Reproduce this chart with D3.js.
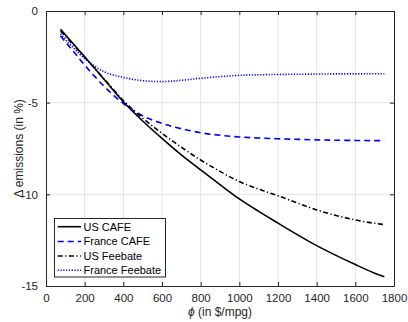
<!DOCTYPE html>
<html>
<head>
<meta charset="utf-8">
<script src="https://cdn.jsdelivr.net/npm/d3@7"></script>
<style>
  html, body { margin: 0; padding: 0; background: #fff; }
  svg { display: block; font-family: "Liberation Sans", Arial, Helvetica, sans-serif; }
</style>
</head>
<body>
<svg id="chart" width="408" height="322"></svg>
<script>
// Fuel-economy price parameter phi (in $/mpg)
const phi = [75, 100, 150, 200, 300, 400, 500, 600, 700, 800, 900, 1000, 1100, 1200, 1300, 1400, 1500, 1600, 1700, 1750];

// Change in emissions (in %) for each policy
const usCafe = [-1.0, -1.3, -1.9, -2.5, -3.72, -4.95, -6.0, -6.95, -7.85, -8.67, -9.47, -10.25, -10.93, -11.57, -12.2, -12.8, -13.33, -13.83, -14.3, -14.5];
const franceCafe = [-1.35, -1.68, -2.31, -2.95, -4.1, -5.05, -5.72, -6.13, -6.42, -6.64, -6.78, -6.87, -6.93, -6.97, -7.0, -7.03, -7.05, -7.06, -7.07, -7.07];
const usFeebate = [-1.1, -1.38, -1.95, -2.52, -3.7, -4.88, -5.85, -6.67, -7.43, -8.13, -8.75, -9.3, -9.72, -10.08, -10.47, -10.85, -11.15, -11.4, -11.58, -11.65];
const franceFeebate = [-1.25, -1.55, -2.1, -2.6, -3.31, -3.62, -3.8, -3.85, -3.78, -3.67, -3.58, -3.51, -3.48, -3.46, -3.45, -3.44, -3.43, -3.43, -3.42, -3.42];

const seriesNames = ["US CAFE", "France CAFE", "US Feebate", "France Feebate"];
const xTicks = [0, 200, 400, 600, 800, 1000, 1200, 1400, 1600, 1800];
const yTicks = [0, -5, -10, -15];

const series = [
  { name: seriesNames[0], values: usCafe, color: "#000", dash: null },
  { name: seriesNames[1], values: franceCafe, color: "#0000ff", dash: "6,4" },
  { name: seriesNames[2], values: usFeebate, color: "#000", dash: "5,2.5,1.2,2.5" },
  { name: seriesNames[3], values: franceFeebate, color: "#0000ff", dash: "1.2,1.6" }
];

const svg = d3.select("#chart");
const m = { left: 46, top: 11, right: 14, bottom: 36 };
const W = 408, H = 322;
const iw = W - m.left - m.right, ih = H - m.top - m.bottom;
const axisColor = "#262626";
const plain = d => String(d);

const x = d3.scaleLinear().domain([0, 1800]).range([m.left, m.left + iw]);
const y = d3.scaleLinear().domain([-15, 0]).range([m.top + ih, m.top]);

// grid
const grid = svg.append("g");
grid.selectAll("line.gx").data(xTicks.slice(1, -1)).enter().append("line")
  .attr("x1", d => x(d)).attr("x2", d => x(d))
  .attr("y1", m.top).attr("y2", m.top + ih)
  .attr("stroke", "#e3e3e3").attr("stroke-width", 1);
grid.selectAll("line.gy").data(yTicks.slice(1, -1)).enter().append("line")
  .attr("y1", d => y(d)).attr("y2", d => y(d))
  .attr("x1", m.left).attr("x2", m.left + iw)
  .attr("stroke", "#e3e3e3").attr("stroke-width", 1);

// curves
const line = d3.line()
  .x((d, i) => x(phi[i]))
  .y(d => y(d))
  .curve(d3.curveMonotoneX);

series.forEach(s => {
  svg.append("path")
    .datum(s.values)
    .attr("d", line)
    .attr("fill", "none")
    .attr("stroke", s.color)
    .attr("stroke-width", 1.6)
    .attr("stroke-dasharray", s.dash);
});

// axes (inward ticks on all four sides)
const tickLen = 4;
const xAxisB = d3.axisBottom(x).tickValues(xTicks).tickSizeInner(-tickLen).tickSizeOuter(0).tickPadding(8).tickFormat(plain);
const xAxisT = d3.axisTop(x).tickValues(xTicks).tickSizeInner(-tickLen).tickSizeOuter(0).tickFormat("");
const yAxisL = d3.axisLeft(y).tickValues(yTicks).tickSizeInner(-tickLen).tickSizeOuter(0).tickPadding(8).tickFormat(plain);
const yAxisR = d3.axisRight(y).tickValues(yTicks).tickSizeInner(-tickLen).tickSizeOuter(0).tickFormat("");

function styleAxis(g) {
  g.select(".domain").attr("stroke", axisColor).attr("stroke-width", 1);
  g.selectAll(".tick line").attr("stroke", axisColor).attr("stroke-width", 1);
  g.selectAll(".tick text").attr("fill", axisColor).attr("font-size", 11.5)
    .attr("font-family", "'Liberation Sans', Arial, Helvetica, sans-serif");
}

svg.append("g").attr("transform", `translate(0,${m.top + ih})`).call(xAxisB).call(styleAxis);
svg.append("g").attr("transform", `translate(0,${m.top})`).call(xAxisT).call(styleAxis);
svg.append("g").attr("transform", `translate(${m.left},0)`).call(yAxisL).call(styleAxis);
svg.append("g").attr("transform", `translate(${m.left + iw},0)`).call(yAxisR).call(styleAxis);

// axis labels
const xl = svg.append("text")
  .attr("x", x(900)).attr("y", 316)
  .attr("text-anchor", "middle")
  .attr("fill", axisColor).attr("font-size", 12);
xl.append("tspan").attr("font-style", "italic").text("ϕ");
xl.append("tspan").text(" (in $/mpg)");

svg.append("text")
  .attr("transform", `translate(23,${y(-7.5)}) rotate(-90)`)
  .attr("text-anchor", "middle")
  .attr("fill", axisColor).attr("font-size", 12)
  .text("Δ emissions (in %)");

// legend
const lg = svg.append("g");
const lx = 54.5, ly = 218.5, lw = 111, lh = 58.5;
lg.append("rect")
  .attr("x", lx).attr("y", ly).attr("width", lw).attr("height", lh)
  .attr("fill", "#fff").attr("stroke", axisColor).attr("stroke-width", 1);
const rowY = [226.7, 241.5, 256, 270.3];
series.forEach((s, i) => {
  lg.append("line")
    .attr("x1", 57.7).attr("x2", 81).attr("y1", rowY[i]).attr("y2", rowY[i])
    .attr("stroke", s.color).attr("stroke-width", 1.6)
    .attr("stroke-dasharray", s.dash);
  lg.append("text")
    .attr("x", 83.5).attr("y", rowY[i]).attr("dy", "0.36em")
    .attr("fill", "#000").attr("font-size", 11)
    .text(s.name);
});
</script>
</body>
</html>
